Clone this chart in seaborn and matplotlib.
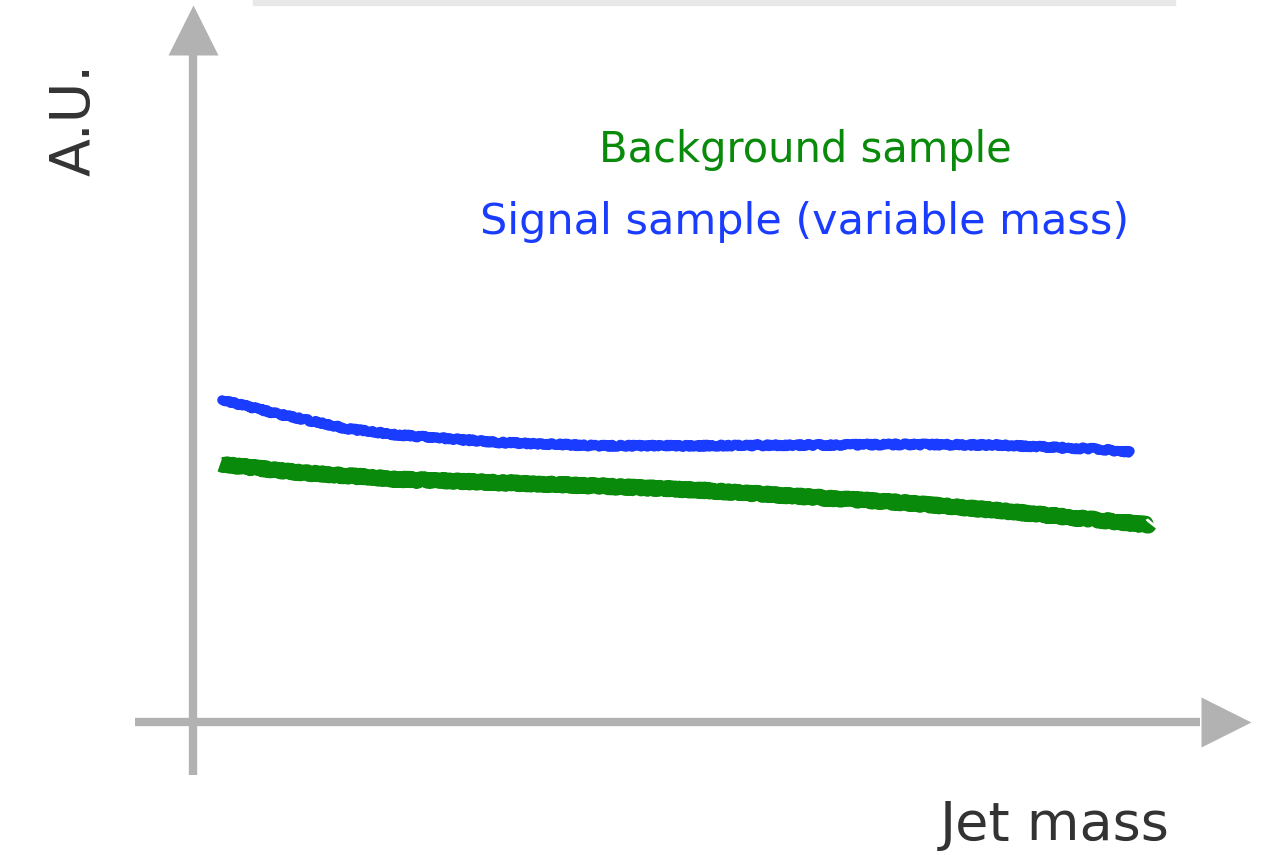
import numpy as np
import pandas as pd
import matplotlib
matplotlib.use("Agg")
import matplotlib.pyplot as plt
import seaborn as sns

# ---- data (normalised jet mass vs arbitrary units) ----
signal_x = [0.025, 0.08, 0.15, 0.20, 0.30, 0.40, 0.50, 0.60, 0.70, 0.80, 0.90, 0.93]
signal_y = [0.472, 0.452, 0.430, 0.421, 0.410, 0.405, 0.405, 0.406, 0.407, 0.406, 0.400, 0.396]
background_x = [0.023, 0.10, 0.20, 0.30, 0.40, 0.50, 0.60, 0.70, 0.80, 0.90, 0.95]
background_y = [0.378, 0.366, 0.356, 0.351, 0.346, 0.340, 0.331, 0.322, 0.310, 0.296, 0.289]

labels = ["Background sample", "Signal sample (variable mass)"]
xlabel = "Jet mass"
ylabel = "A.U."

sns.set_theme(style="white")
plt.rcParams['font.family'] = ['DejaVu Sans']

W, H = 1281, 855
fig = plt.figure(figsize=(W / 100, H / 100), dpi=100)
fig.patch.set_facecolor("white")

# faint bar at top edge
fig.patches.append(plt.Rectangle((253 / W, 1 - 5 / H), (1175 - 253) / W, 5 / H,
                                 transform=fig.transFigure, color="#e8e8e8", zorder=0))

ax = fig.add_axes([197 / W, (H - 722) / H, (1200 - 197) / W, (722 - 40) / H])
ax.set_xlim(0, 1)
ax.set_ylim(0, 1)
ax.set_axis_off()

df_s = pd.DataFrame({"x": signal_x, "y": signal_y})
df_b = pd.DataFrame({"x": background_x, "y": background_y})

sns.lineplot(data=df_b, x="x", y="y", ax=ax, color="#0a8a0a", lw=11, sort=False,
             solid_capstyle="butt")
sns.lineplot(data=df_s, x="x", y="y", ax=ax, color="#1a3cff", lw=7, sort=False,
             solid_capstyle="round")
for ln in ax.lines:
    ln.set_sketch_params(scale=1.2, length=4, randomness=8)

# hand-drawn style axes with arrowheads
axis_col = "#b2b2b2"
ax.plot([-0.004, -0.004], [-0.078, 0.99], transform=ax.transAxes, color=axis_col,
        lw=6, clip_on=False, solid_capstyle="butt")
ax.plot([-0.004], [1.014], marker="^", ms=36, color=axis_col, transform=ax.transAxes,
        clip_on=False, mec="none")
ax.plot([-0.062, 1.0], [0.0, 0.0], transform=ax.transAxes, color=axis_col,
        lw=6, clip_on=False, solid_capstyle="butt")
ax.plot([1.026], [0.0], marker=">", ms=36, color=axis_col, transform=ax.transAxes,
        clip_on=False, mec="none")

# annotations
fig.text(805 / W, 1 - 150 / H, labels[0], color="#0a8a0a", fontsize=30,
         ha="center", va="center")
fig.text(805 / W, 1 - 222 / H, labels[1], color="#1a3cff", fontsize=31,
         ha="center", va="center")
fig.text(75 / W, 1 - 120 / H, ylabel, color="#333333", fontsize=40, rotation=90,
         ha="center", va="center")
fig.text(1055 / W, 1 - 825 / H, xlabel, color="#333333", fontsize=39,
         ha="center", va="center")

fig.savefig("out.png", dpi=100)
